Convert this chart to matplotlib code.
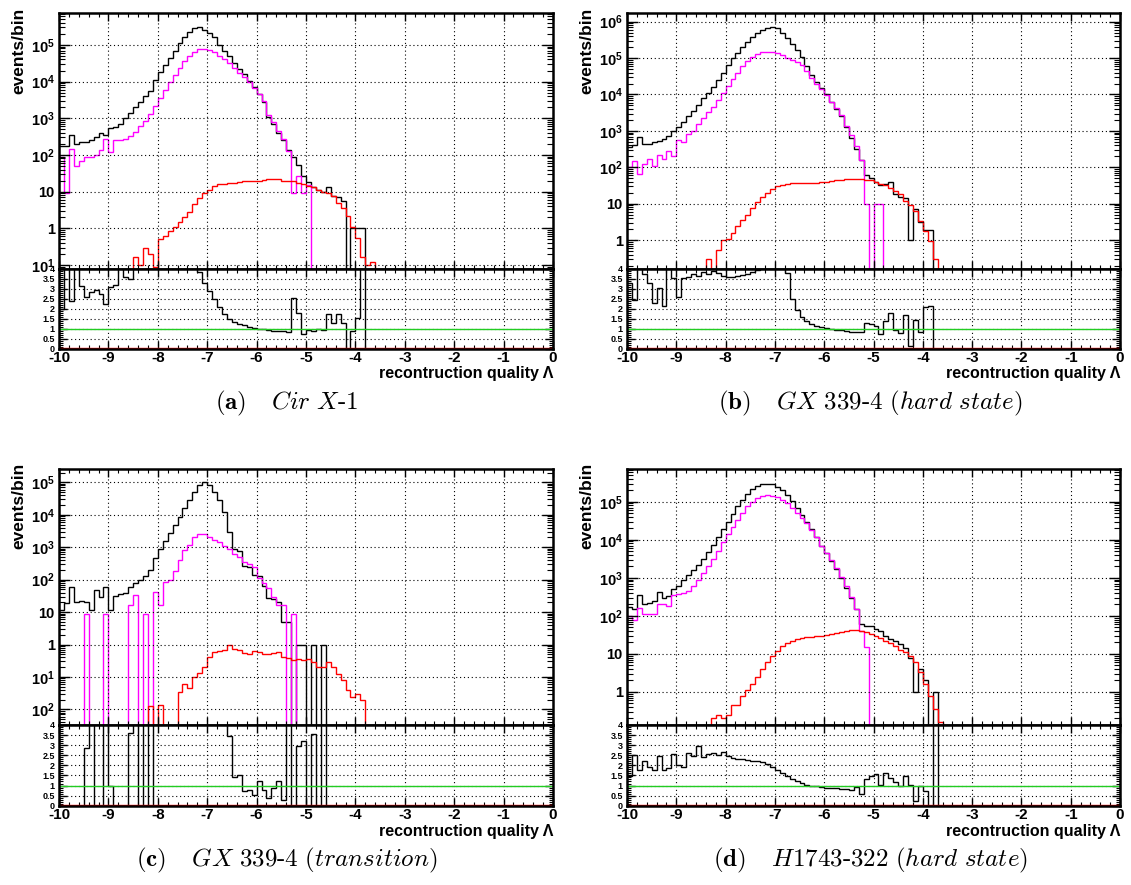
import numpy as np
import matplotlib
matplotlib.use("Agg")
import matplotlib.pyplot as plt
from matplotlib.ticker import (FixedLocator, FixedFormatter, LogLocator, MultipleLocator,
                               NullFormatter, FuncFormatter)

W, H = 1131, 885
plt.rcParams["font.family"] = ["Liberation Sans", "DejaVu Sans"]
plt.rcParams["font.weight"] = "bold"
plt.rcParams["axes.unicode_minus"] = False
plt.rcParams["mathtext.fontset"] = "custom"
plt.rcParams["mathtext.rm"] = "Liberation Sans:bold"
plt.rcParams["mathtext.bf"] = "Liberation Sans:bold"
plt.rcParams["mathtext.it"] = "Liberation Sans:italic:bold"

# 100 bins of 0.1 in Lambda, from -10 to 0; lists start at the -10 bin, later bins are empty
EDGES = np.linspace(-10, 0, 101)

# (a) Cir X-1
black_a = [170, 180, 350, 200, 220, 230, 250, 300, 390, 350,
           540, 590, 700, 1000, 1400, 2000, 2800, 4000, 5600, 1.1e4,
           1.8e4, 2.8e4, 4.5e4, 7e4, 1.1e5, 1.6e5, 2.2e5, 2.8e5, 3e5, 2.6e5,
           2.1e5, 1.6e5, 1e5, 7e4, 5e4, 3.2e4, 2.2e4, 1.6e4, 1.05e4, 7000,
           4500, 2800, 1100, 700, 400, 250, 140, 90, 53, 27,
           18, 13, 11, 10, 13, 7.6, 7, 5.6, 0, 1,
           1, 1]
magenta_a = [90, 9, 145, 50, 70, 90, 90, 100, 140, 270,
             120, 260, 250, 280, 330, 420, 600, 850, 1300, 2200,
             3600, 5800, 9500, 1.5e4, 2.4e4, 3.6e4, 5e4, 6.5e4, 7.6e4, 7.5e4,
             7.2e4, 6.3e4, 5e4, 4e4, 3.3e4, 2.4e4, 1.75e4, 1.35e4, 9500, 6700,
             4500, 2900, 1250, 800, 460, 280, 130, 9, 27, 9,
             15]
red_a = [0] * 15 + [0.17, 0.1, 0.3, 0.2, 0.09, 0.5, 0.6, 0.85, 1.1, 1.5,
                    2.0, 2.8, 4.5, 6.5, 9, 11, 14, 16, 16, 17,
                    17, 18, 19, 19, 20, 20, 21, 22, 22, 22,
                    20, 20, 19, 17, 16, 14, 13, 11, 10, 9,
                    7.5, 5, 3.5, 2.2, 1.1, 0.55, 0.17, 0.1, 0.12]
ratio_a = [2.0, 5, 2.4, 5, 3.15, 2.6, 2.85, 2.95, 2.75, 2.25,
           3.1, 3.2, 5, 3.6, 3.5, 5, 5, 5, 5, 5,
           5, 5, 5, 5, 5, 5, 5, 5, 3.85, 3.3,
           2.9, 2.5, 2.1, 1.75, 1.5, 1.35, 1.25, 1.2, 1.1, 1.05,
           1.0, 0.97, 0.95, 0.9, 0.88, 0.9, 0.85, 2.55, 1.8, 0.75,
           0.95, 0.9, 1.0, 0.95, 1.75, 1.3, 1.75, 1.3, 0, 0.9,
           1.55, 5]

# (b) GX 339-4 (hard state)
black_b = [350, 400, 700, 450, 450, 480, 530, 600, 720, 1000,
           1300, 1800, 2500, 3500, 5000, 8000, 1.1e4, 1.6e4, 2.5e4, 4e4,
           6.3e4, 1e5, 1.4e5, 2e5, 2.8e5, 3.8e5, 4.8e5, 5.8e5, 6.6e5, 7.2e5,
           6.6e5, 5e5, 3.5e5, 2.5e5, 1.65e5, 1.05e5, 6e4, 3.5e4, 2.2e4, 1.5e4,
           1e4, 6300, 4000, 2500, 1250, 630, 320, 160, 63, 50,
           40, 32, 35, 40, 19, 15, 14, 1, 7, 3.2,
           1.9, 1.9]
magenta_b = [100, 150, 65, 120, 170, 110, 220, 170, 280, 200,
             550, 480, 800, 1000, 1500, 2200, 3200, 4500, 7000, 1.1e4,
             1.7e4, 2.6e4, 4e4, 6e4, 8.5e4, 1.1e5, 1.3e5, 1.45e5, 1.5e5, 1.45e5,
             1.4e5, 1.2e5, 1e5, 9e4, 8e4, 6.5e4, 4.3e4, 2.8e4, 1.9e4, 1.4e4,
             9500, 6300, 4200, 2700, 1400, 750, 380, 160, 10, 0,
             10, 10]
red_b = [0] * 16 + [0.3, 0, 0.55, 1.0, 1.1, 1.6, 2.5, 3.5, 5, 7.5,
                    11, 15, 20, 25, 30, 33, 35, 36, 37, 38,
                    38, 38, 38, 39, 40, 42, 44, 46, 48, 49,
                    49, 48, 46, 44, 40, 35, 32, 27, 22, 18,
                    12, 9, 6.5, 3.3, 1.8, 0.95, 0.3]
ratio_b = [3.3, 2.45, 5, 3.75, 3.3, 2.3, 3.05, 2.15, 5, 3.55,
           2.6, 3.55, 3.6, 3.75, 3.65, 3.85, 3.75, 3.9, 3.8, 3.65,
           3.6, 3.6, 3.65, 3.7, 3.75, 3.85, 3.95, 5, 5, 5,
           5, 4.2, 3.8, 2.5, 1.95, 1.6, 1.4, 1.25, 1.15, 1.1,
           1.05, 1.0, 0.95, 0.92, 0.88, 0.85, 0.83, 0.85, 1.3, 1.25,
           1.15, 0.75, 1.4, 1.8, 0.95, 0.8, 1.7, 0.13, 1.45, 0.85,
           2.1, 2.15]

# (c) GX 339-4 (transition)
black_c = [12, 19, 60, 20, 22, 20, 12, 48, 30, 60,
           12, 32, 35, 40, 60, 80, 95, 130, 200, 450,
           900, 1500, 2700, 4800, 8700, 1.6e4, 2.8e4, 5e4, 8.3e4, 1e5,
           8.3e4, 5.1e4, 2.8e4, 1.25e4, 3000, 900, 750, 270, 240, 140,
           130, 65, 28, 25, 20, 5, 5, 0, 1, 1,
           0, 1, 0, 1]
magenta_c = [0, 0, 0, 0, 0, 8.5, 0, 0, 0, 8.5,
             0, 0, 0, 0, 16, 33, 0, 8.5, 0, 42,
             16, 87, 100, 180, 400, 800, 1200, 2000, 2500, 2500,
             2100, 1700, 1400, 1100, 850, 600, 500, 350, 300, 250,
             110, 80, 55, 30, 16, 16, 0, 8.5]
red_c = [0] * 18 + [0.013, 0, 0.014, 0, 0, 0, 0.035, 0.06, 0.045, 0.1,
                    0.13, 0.2, 0.4, 0.6, 0.65, 0.7, 1.0, 0.75, 0.7, 0.55,
                    0.5, 0.65, 0.6, 0.5, 0.5, 0.55, 0.6, 0.4, 0.38, 0.33,
                    0.35, 0.33, 0.35, 0.28, 0.2, 0.21, 0.28, 0.2, 0.12, 0.08,
                    0.04, 0.025, 0.03, 0.02]
ratio_c = [0, 0, 0, 0, 0, 2.85, 5, 0, 0, 5,
           1.0, 0, 0, 0, 3.6, 5, 0, 5, 0, 5,
           5, 5, 5, 5, 5, 5, 5, 5, 5, 5,
           5, 5, 5, 5, 3.45, 1.4, 1.5, 0.75, 0.8, 0.55,
           1.2, 0.8, 0.4, 0.9, 1.2, 0.3, 5, 0, 2.95, 3.2,
           0, 3.55, 0, 5]

# (d) H1743-322 (hard state)
black_d = [170, 150, 350, 200, 220, 240, 420, 300, 330, 500,
           600, 900, 1200, 1600, 2200, 3200, 4800, 7500, 1.2e4, 1.9e4,
           3e4, 4.8e4, 7.5e4, 1.1e5, 1.6e5, 2.1e5, 2.6e5, 2.9e5, 3e5, 2.9e5,
           2.5e5, 2e5, 1.5e5, 1.05e5, 7e4, 4.6e4, 3e4, 1.9e4, 1.2e4, 7000,
           4500, 2800, 1700, 1000, 550, 300, 150, 60, 55, 55,
           45, 40, 30, 25, 22, 18, 14, 8, 1, 4,
           2, 0, 1]
magenta_d = [100, 80, 160, 110, 110, 110, 210, 200, 180, 350,
             380, 400, 450, 600, 900, 1300, 2000, 3200, 5000, 8500,
             1.4e4, 2.2e4, 3.4e4, 5.2e4, 7.5e4, 1e5, 1.25e5, 1.45e5, 1.5e5, 1.45e5,
             1.3e5, 1.1e5, 9e4, 7e4, 5.2e4, 3.8e4, 2.7e4, 1.8e4, 1.15e4, 7000,
             4500, 2900, 1800, 1050, 600, 320, 150, 40, 15]
red_d = [0] * 17 + [0.2, 0.25, 0.2, 0.25, 0.45, 0.45, 0.8, 1.1, 1.6, 2.5,
                    4, 6, 9, 12, 16, 19, 22, 24, 26, 27,
                    28, 29, 30, 31, 33, 35, 37, 40, 42, 43,
                    41, 38, 34, 30, 26, 22, 19, 16, 13, 11,
                    9, 6, 3.4, 1.6, 0.8, 0.35, 0.16]
ratio_d = [1.45, 2.5, 1.75, 2.2, 1.9, 1.75, 2.45, 1.75, 1.85, 2.55,
           2.0, 1.9, 2.6, 2.45, 2.95, 2.4, 2.55, 2.6, 2.5, 2.65,
           2.45, 2.35, 2.33, 2.3, 2.27, 2.24, 2.2, 2.15, 2.05, 1.9,
           1.75, 1.6, 1.45, 1.33, 1.22, 1.12, 1.05, 1.0, 0.97, 0.93,
           0.9, 0.88, 0.86, 0.84, 0.82, 0.8, 0.95, 0.6, 1.3, 1.45,
           1.55, 1.05, 1.6, 1.35, 1.15, 1.0, 1.45, 1.05, 0.25, 1.0,
           0.75, 0, 5]

captions = [r"$\mathbf{(a)}$   $\mathit{Cir\ X}$-$\mathit{1}$",
            r"$\mathbf{(b)}$   $\mathit{GX\ 339}$-$\mathit{4\ (hard\ state)}$",
            r"$\mathbf{(c)}$   $\mathit{GX\ 339}$-$\mathit{4\ (transition)}$",
            r"$\mathbf{(d)}$   $\mathit{H1743}$-$\mathit{322\ (hard\ state)}$"]

TICKS_A = ([0.1, 1, 10, 1e2, 1e3, 1e4, 1e5],
           [r"$10^{1}$", "1", "10", r"$10^{2}$", r"$10^{3}$", r"$10^{4}$", r"$10^{5}$"])
TICKS_B = ([1, 10, 1e2, 1e3, 1e4, 1e5, 1e6],
           ["1", "10", r"$10^{2}$", r"$10^{3}$", r"$10^{4}$", r"$10^{5}$", r"$10^{6}$"])
TICKS_C = ([0.01, 0.1, 1, 10, 1e2, 1e3, 1e4, 1e5],
           [r"$10^{2}$", r"$10^{1}$", "1", "10", r"$10^{2}$", r"$10^{3}$", r"$10^{4}$", r"$10^{5}$"])
TICKS_D = ([1, 10, 1e2, 1e3, 1e4, 1e5],
           ["1", "10", r"$10^{2}$", r"$10^{3}$", r"$10^{4}$", r"$10^{5}$"])

MAGENTA, RED, GREEN = "#ff00ff", "#ff0000", "#22cc22"
DOTS = (0, (1, 2.5))


def full(vals):
    v = np.zeros(100)
    v[:len(vals)] = vals
    return v


def panel(fig, box, black, magenta, red, ratio, ylog, ticks, caption, cap_x, ylab_x):
    left, right, top, mid, bottom = box
    ax = fig.add_axes([left / W, 1 - mid / H, (right - left) / W, (mid - top) / H])
    rx = fig.add_axes([left / W, 1 - bottom / H, (right - left) / W, (bottom - mid) / H])

    # upper pad: counts per bin
    ax.set_yscale("log")
    ax.set_xlim(-10, 0)
    ax.set_ylim(10 ** ylog[0], 10 ** ylog[1])
    ax.stairs(full(black), EDGES, color="black", lw=1.0, baseline=None)
    ax.stairs(full(magenta), EDGES, color=MAGENTA, lw=1.0, baseline=None)
    ax.stairs(full(red), EDGES, color=RED, lw=1.0, baseline=None)
    ax.yaxis.set_major_locator(FixedLocator(ticks[0]))
    ax.yaxis.set_major_formatter(FixedFormatter(ticks[1]))
    ax.yaxis.set_minor_locator(LogLocator(base=10, subs=np.arange(2, 10), numticks=60))
    ax.yaxis.set_minor_formatter(NullFormatter())
    ax.xaxis.set_major_locator(MultipleLocator(1))
    ax.xaxis.set_minor_locator(MultipleLocator(0.2))
    ax.tick_params(which="both", direction="in", top=True, right=True, labelbottom=False)
    ax.tick_params(axis="y", which="major", length=8, width=1, labelsize=10.5, pad=3)
    ax.tick_params(axis="y", which="minor", length=4.5, width=0.8)
    ax.tick_params(axis="x", which="major", length=6, width=1)
    ax.tick_params(axis="x", which="minor", length=3, width=0.8)
    ax.grid(True, which="major", ls=DOTS, color="black", lw=0.8)

    # lower pad: data / simulation
    rx.set_xlim(-10, 0)
    rx.set_ylim(0, 4)
    rx.stairs(full(ratio), EDGES, color="black", lw=1.0, baseline=None)
    rx.axhline(1, color=GREEN, lw=1.0)
    rx.axhline(0.02, color=RED, lw=1.0)
    rx.yaxis.set_major_locator(MultipleLocator(0.5))
    rx.yaxis.set_minor_locator(MultipleLocator(0.1))
    rx.yaxis.set_major_formatter(FuncFormatter(lambda v, p: f"{v:g}"))
    rx.xaxis.set_major_locator(MultipleLocator(1))
    rx.xaxis.set_minor_locator(MultipleLocator(0.2))
    rx.tick_params(which="both", direction="in", top=True, right=True)
    rx.tick_params(axis="y", which="major", length=6, width=1, labelsize=6.5, pad=3)
    rx.tick_params(axis="y", which="minor", length=3, width=0.8)
    rx.tick_params(axis="x", which="major", length=6, width=1, labelsize=11, pad=2)
    rx.tick_params(axis="x", which="minor", length=3, width=0.8)
    rx.grid(True, which="major", ls=DOTS, color="black", lw=0.8)

    for a in (ax, rx):
        for s in a.spines.values():
            s.set_linewidth(1.8)

    fig.text(ylab_x / W, 1 - (top - 6) / H, "events/bin", rotation=90,
             ha="center", va="top", fontsize=12.5, fontweight="bold")
    fig.text(right / W, 1 - (bottom + 25.5) / H, "recontruction quality Λ",
             ha="right", va="center", fontsize=11.5, fontweight="bold")
    fig.text(cap_x / W, 1 - (bottom + 54.5) / H, caption, ha="center", va="center",
             fontsize=18, fontfamily="cmr10", math_fontfamily="cm", fontweight="normal")


def main():
    fig = plt.figure(figsize=(W / 100, H / 100), dpi=100)
    panel(fig, (59, 553, 13.3, 268.5, 348.5), black_a, magenta_a, red_a, ratio_a,
          (-1.095, 5.86), TICKS_A, captions[0], 287, 18.5)
    panel(fig, (627, 1120, 13.3, 268.5, 348.5), black_b, magenta_b, red_b, ratio_b,
          (-0.78, 6.23), TICKS_B, captions[1], 870, 587)
    panel(fig, (59, 553, 469, 725, 805.7), black_c, magenta_c, red_c, ratio_c,
          (-2.48, 5.41), TICKS_C, captions[2], 287, 18.5)
    panel(fig, (627, 1120, 469, 725, 805.7), black_d, magenta_d, red_d, ratio_d,
          (-0.87, 5.86), TICKS_D, captions[3], 870, 587)
    fig.savefig("out.png", dpi=100)


if __name__ == "__main__":
    main()
